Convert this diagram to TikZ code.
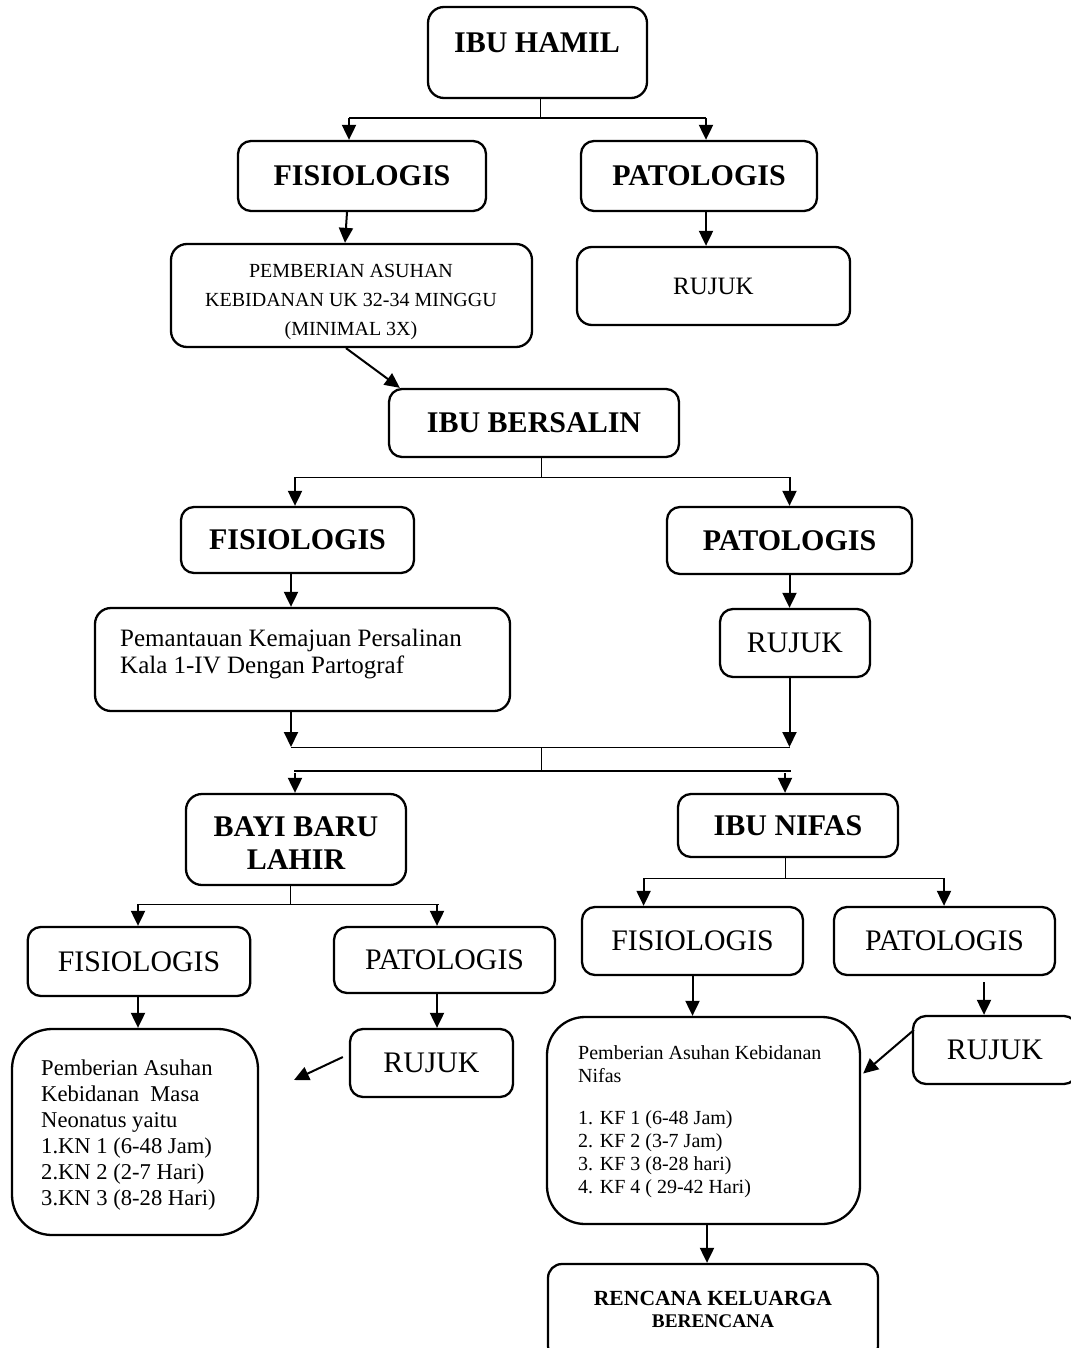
\documentclass[tikz,border=0pt]{standalone}
\usepackage{fontspec}
\setmainfont{Liberation Serif}
\usetikzlibrary{arrows.meta}
\begin{document}
\begin{tikzpicture}[x=1pt,y=-1pt,
  box/.style={draw, line width=2.3pt, rounded corners=13pt, inner sep=0pt, align=center},
  hb/.style={font=\fontsize{30}{34}\selectfont\bfseries},
  rg/.style={font=\fontsize{29.8}{34}\selectfont},
  ln/.style={line width=1pt},
  thk/.style={line width=2.2pt},
  arr/.style={line width=2pt, -{Triangle[length=15pt,width=14pt]}},
  txt/.style={inner sep=0pt, align=left, anchor=west}]
\useasboundingbox (0,0) rectangle (1070,1348);

% ---------- IBU HAMIL ----------
\node[box, minimum width=219pt, minimum height=91pt, rounded corners=16pt] (hamil) at (537.5,52.5) {};
\node[hb, inner sep=0pt] (hamilT) at (537,43) {IBU HAMIL};
\node[box, hb, minimum width=248pt, minimum height=70pt] (fis1) at (362,176) {FISIOLOGIS};
\node[box, hb, minimum width=236pt, minimum height=70pt] (pat1) at (699,176) {PATOLOGIS};
\node[box, minimum width=361pt, minimum height=103pt, rounded corners=16pt] (pemb) at (351.5,295.5) {};
\node[inner sep=0pt, align=center, font=\fontsize{20}{29}\selectfont] (pembT) at (351,302) {PEMBERIAN ASUHAN\\KEBIDANAN UK 32-34 MINGGU\\(MINIMAL 3X)};
\node[box, font=\fontsize{25}{30}\selectfont, minimum width=273pt, minimum height=78pt, rounded corners=15pt] (rujuk1) at (713.5,286) {RUJUK};

% ---------- IBU BERSALIN ----------
\node[box, hb, minimum width=290pt, minimum height=68pt] (bersalin) at (534,423) {IBU BERSALIN};
\node[box, hb, minimum width=233pt, minimum height=66pt] (fis2) at (297.5,540) {FISIOLOGIS};
\node[box, hb, minimum width=245pt, minimum height=67pt] (pat2) at (789.5,540.5) {PATOLOGIS};
\node[box, minimum width=415pt, minimum height=103pt, rounded corners=16pt] (pemant) at (302.5,659.5) {};
\node[txt, font=\fontsize{25}{27}\selectfont] (pemantT) at (120,654) {Pemantauan Kemajuan Persalinan\\Kala 1-IV Dengan Partograf};
\node[box, rg, minimum width=150pt, minimum height=68pt] (rujuk2) at (795,643) {RUJUK};

% ---------- BAYI BARU LAHIR ----------
\node[box, minimum width=220pt, minimum height=91pt, rounded corners=16pt] (bayi) at (296,839.5) {};
\node[inner sep=0pt, align=center, font=\fontsize{30}{33}\selectfont\bfseries] (bayiT) at (296,843.5) {BAYI BARU\\LAHIR};
\node[box, rg, minimum width=222.5pt, minimum height=69pt] (fis3) at (139,961.5) {FISIOLOGIS};
\node[box, rg, minimum width=221pt, minimum height=66pt] (pat3) at (444.5,960) {PATOLOGIS};
\node[box, minimum width=246pt, minimum height=206pt, rounded corners=40pt] (leftpemb) at (135,1132) {};
\node[txt, font=\fontsize{22.6}{26}\selectfont] (leftpembT) at (41,1135) {Pemberian Asuhan\\Kebidanan\ \ Masa\\Neonatus yaitu\\1.KN 1 (6-48 Jam)\\2.KN 2 (2-7 Hari)\\3.KN 3 (8-28 Hari)};
\node[box, rg, minimum width=163pt, minimum height=68pt] (rujuk3) at (431.5,1063) {RUJUK};

% ---------- IBU NIFAS ----------
\node[box, hb, minimum width=220pt, minimum height=63pt] (nifas) at (788,825.5) {IBU NIFAS};
\node[box, rg, minimum width=221pt, minimum height=68pt] (fis4) at (692.5,941) {FISIOLOGIS};
\node[box, rg, minimum width=221pt, minimum height=68pt] (pat4) at (944.5,941) {PATOLOGIS};
\node[box, minimum width=313pt, minimum height=207pt, rounded corners=38pt] (nifasT) at (703.5,1120.5) {};
\node[txt, font=\fontsize{20}{23}\selectfont] (nifasTT) at (578,1122) {Pemberian Asuhan Kebidanan\\Nifas\\[19pt]1. KF 1 (6-48 Jam)\\2. KF 2 (3-7 Jam)\\3. KF 3 (8-28 hari)\\4. KF 4 ( 29-42 Hari)};
\node[box, rg, minimum width=164pt, minimum height=68pt] (rujuk4) at (995,1050) {RUJUK};
\node[box, minimum width=330pt, minimum height=96pt, rounded corners=14pt] (rencana) at (713,1312) {};
\node[inner sep=0pt, align=center, font=\bfseries\fontsize{21.6}{22.5}\selectfont] (rencanaT) at (713,1309.5) {RENCANA KELUARGA\\{\fontsize{19.3}{22.5}\selectfont BERENCANA}};

% ---------- connectors: IBU HAMIL ----------
\coordinate (hJ) at (540.5,118);
\coordinate (hL) at (349,118);
\coordinate (hR) at (706,118);
\draw[ln] (hamil.south -| hJ) -- (hJ);
\draw[thk] (hL) -- (hR);
\draw[arr] (hL) -- (hL |- fis1.north);
\draw[arr] (hR) -- (hR |- pat1.north);
\draw[arr] ([xshift=-15pt]fis1.south) -- ([xshift=-6.5pt]pemb.north);
\draw[arr] ([xshift=7pt]pat1.south) -- ([xshift=-7.5pt]rujuk1.north);
\draw[arr] ([xshift=-5.5pt]pemb.south) -- ([xshift=12pt]bersalin.north west);

% ---------- connectors: IBU BERSALIN ----------
\coordinate (bJ) at (541,477);
\coordinate (bL) at (295,477);
\coordinate (bR) at (789.5,477);
\draw[ln] (bersalin.south -| bJ) -- (bJ);
\draw[ln] (bL) -- (bR);
\draw[arr] (bL) -- (bL |- fis2.north);
\draw[arr] (bR) -- (bR |- pat2.north);
\coordinate (mL) at (291,747);
\coordinate (mR) at (789.5,747);
\draw[arr] (fis2.south -| mL) -- (pemant.north -| mL);
\draw[arr] (pat2.south -| mR) -- (rujuk2.north -| mR);
\draw[arr] (pemant.south -| mL) -- (mL);
\draw[arr] (rujuk2.south -| mR) -- (mR);
\draw[ln] (mL) -- (mR);
\coordinate (mJ) at (541,747);
\coordinate (mJ2) at (541,771);
\draw[ln] (mJ) -- (mJ2);
\coordinate (sL) at (294,771);
\coordinate (sR) at (791,771);
\draw[thk] (sL) -- (sR);
\coordinate (aL) at (295,773);
\coordinate (aR) at (785,773);
\draw[arr] (aL) -- (aL |- bayi.north);
\draw[arr] (aR) -- (aR |- nifas.north);

% ---------- connectors: BAYI ----------
\coordinate (yJ) at (290,904);
\coordinate (yL) at (138,904);
\coordinate (yR) at (439,904);
\coordinate (yA) at (437,904);
\draw[ln] (bayi.south -| yJ) -- (yJ);
\draw[ln] (yL) -- (yR);
\draw[arr] (yL) -- (yL |- fis3.north);
\draw[arr] (yA) -- (yA |- pat3.north);
\draw[arr] (fis3.south -| yL) -- (leftpemb.north -| yL);
\draw[arr] (pat3.south -| yA) -- (rujuk3.north -| yA);
\coordinate (r3end) at (294,1080);
\draw[arr] ([xshift=-6pt,yshift=6pt]rujuk3.west) -- (r3end);

% ---------- connectors: NIFAS ----------
\coordinate (nJ) at (785.5,878);
\coordinate (nL) at (643.6,878);
\coordinate (nR) at (944,878);
\draw[ln] (nifas.south -| nJ) -- (nJ);
\draw[ln] (nL) -- (nR);
\draw[arr] (nL) -- (nL |- fis4.north);
\draw[arr] (nR) -- (nR |- pat4.north);
\draw[arr] (fis4.south) -- (fis4.south |- nifasT.north);
\draw[arr] ([xshift=39.5pt,yshift=-6pt]pat4.south) -- ([xshift=-11pt]rujuk4.north);
\draw[arr] ([xshift=2pt,yshift=20pt]rujuk4.west) -- ([xshift=2pt,yshift=47pt]nifasT.east);
\draw[arr] ([xshift=3.5pt]nifasT.south) -- ([xshift=-6pt]rencana.north);
\end{tikzpicture}
\end{document}
